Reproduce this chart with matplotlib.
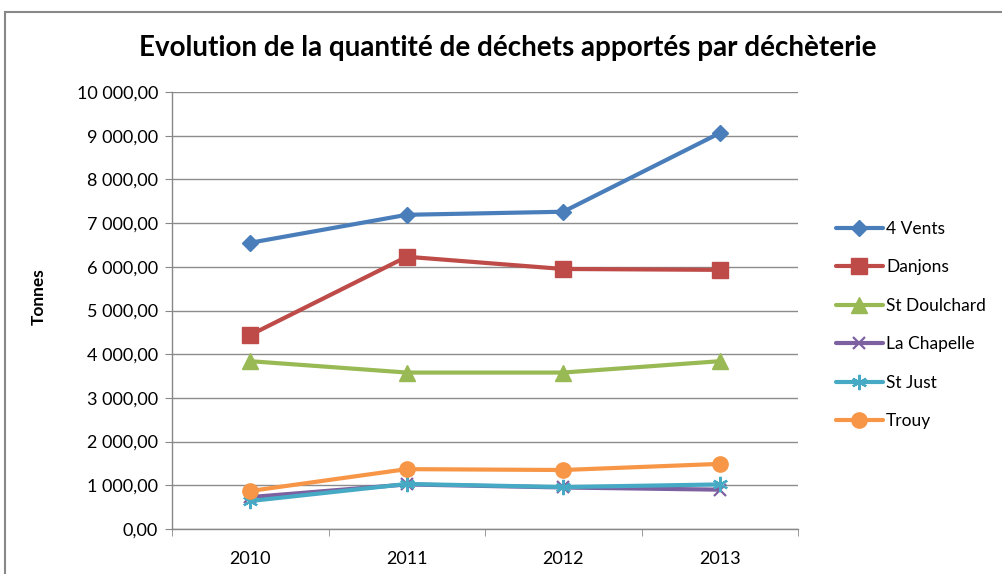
import matplotlib
matplotlib.use("Agg")
import matplotlib.pyplot as plt
from matplotlib.patches import Rectangle
from matplotlib.ticker import FuncFormatter, MultipleLocator

years = ["2010", "2011", "2012", "2013"]
series_names = ["4 Vents", "Danjons", "St Doulchard", "La Chapelle", "St Just", "Trouy"]
vents4 = [6550, 7190, 7260, 9060]
danjons = [4440, 6230, 5950, 5930]
st_doulchard = [3840, 3580, 3580, 3840]
la_chapelle = [730, 1020, 950, 900]
st_just = [640, 1030, 960, 1020]
trouy = [870, 1370, 1350, 1490]

values = [vents4, danjons, st_doulchard, la_chapelle, st_just, trouy]
colors = ["#4A7EBB", "#BE4B48", "#98B954", "#7D60A0", "#46AAC5", "#F79646"]
markers = ["D", "s", "^", "x", (6, 2, 0), "o"]
msizes = [8, 11, 11, 9, 11, 11]

plt.rcParams['font.family'] = ['Lato', 'DejaVu Sans']

fig = plt.figure(figsize=(10.02, 5.74), dpi=100)
W, H = 1002, 574
ax = fig.add_axes([172 / W, 1 - 529 / H, (798 - 172) / W, (529 - 92) / H])

x = list(range(len(years)))
for name, vals, c, m, ms in zip(series_names, values, colors, markers, msizes):
    mew = 1.6 if m in ("x",) or isinstance(m, tuple) else 1
    ax.plot(x, vals, color=c, lw=3, marker=m, markersize=ms, markeredgewidth=mew,
            markerfacecolor=c, markeredgecolor=c, label=name, solid_capstyle='round')

ax.set_xlim(-0.5, 3.5)
ax.set_ylim(0, 10000)
ax.yaxis.set_major_locator(MultipleLocator(1000))


def fr(v, pos):
    s = f"{v:,.2f}"
    return s.replace(",", " ").replace(".", ",")


ax.yaxis.set_major_formatter(FuncFormatter(fr))
ax.set_xticks(x)
ax.set_xticklabels(years)
ax.set_xticks([-0.5, 0.5, 1.5, 2.5, 3.5], minor=True)
ax.tick_params(axis='x', which='major', length=0, pad=16, labelsize=13)
ax.tick_params(axis='x', which='minor', length=5, color='#888888', direction='out')
ax.tick_params(axis='y', length=5, color='#888888', labelsize=13, pad=5)
ax.grid(axis='y', color='#8c8c8c', lw=1)
ax.set_axisbelow(True)
for s in ['top', 'right']:
    ax.spines[s].set_visible(False)
for s in ['left', 'bottom']:
    ax.spines[s].set_color('#888888')
    ax.spines[s].set_linewidth(1)

ax.set_ylabel("Tonnes", fontsize=12.5, fontweight='bold')
ax.yaxis.set_label_coords((47 - 172) / 626, (529 - 297) / 437)

fig.text(508 / W, 1 - 48 / H, "Evolution de la quantité de déchets apportés par déchèterie",
         ha='center', va='center', fontsize=20, fontweight='bold')

leg = ax.legend(loc='center left', bbox_to_anchor=(820 / W, 1 - 325 / H),
                bbox_transform=fig.transFigure, frameon=False, fontsize=12.5,
                handlelength=2.7, labelspacing=1.3, handletextpad=0.2)

fig.patches.append(Rectangle((5 / W, -0.1), 1.2, 1 - 12 / H + 0.1, transform=fig.transFigure,
                             fill=False, edgecolor='#888888', lw=1.5))

fig.savefig("out.png", dpi=100)
